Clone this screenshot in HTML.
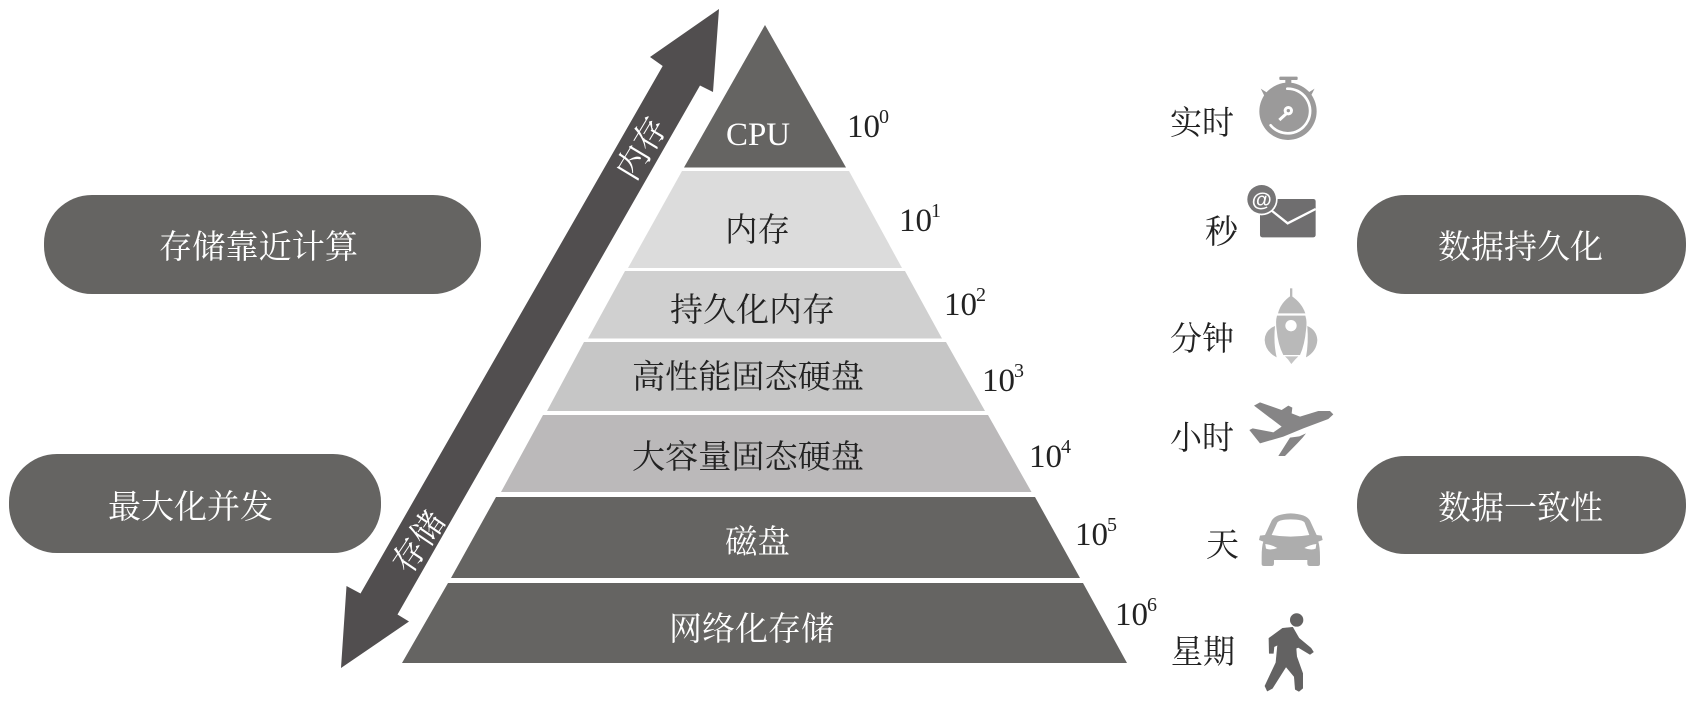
<!DOCTYPE html>
<html>
<head>
<meta charset="utf-8">
<style>
html,body{margin:0;padding:0;background:#fff;width:1698px;height:708px;overflow:hidden}
svg{display:block}
text{font-family:"Liberation Serif","Noto Serif CJK SC",serif;font-size:33px;fill:#222}
.w{fill:#fff}
.sup{font-size:20px}
.at{font-family:"Liberation Sans",sans-serif;font-weight:700;font-size:62px;fill:#fff}
</style>
</head>
<body>
<svg width="1698" height="708" viewBox="0 0 1698 708" xmlns="http://www.w3.org/2000/svg">
<rect width="1698" height="708" fill="#fff"/>

<!-- pills -->
<rect x="44" y="195" width="437" height="99" rx="48" ry="48" fill="#656462"/>
<rect x="9" y="454" width="372" height="99" rx="48" ry="48" fill="#656462"/>
<rect x="1357" y="195" width="329" height="99" rx="48" ry="48" fill="#656462"/>
<rect x="1357" y="456" width="329" height="98" rx="48" ry="48" fill="#656462"/>
<text class="w" x="159" y="258" textLength="199" lengthAdjust="spacingAndGlyphs">存储靠近计算</text>
<text class="w" x="108" y="518" textLength="165" lengthAdjust="spacingAndGlyphs">最大化并发</text>
<text class="w" x="1438" y="258" textLength="165" lengthAdjust="spacingAndGlyphs">数据持久化</text>
<text class="w" x="1438" y="519" textLength="165" lengthAdjust="spacingAndGlyphs">数据一致性</text>

<!-- pyramid -->
<polygon points="765,25 846,167.5 684,167.5" fill="#656462"/>
<polygon points="682,171 849,171 902,268 628,268" fill="#dcdcdc"/>
<polygon points="625,271 905,271 942,338.5 588,338.5" fill="#d0d0d0"/>
<polygon points="584,342 946,342 985,411 547,411" fill="#c6c6c6"/>
<polygon points="543,415 988,415 1031.5,492 501,492" fill="#bbb9ba"/>
<polygon points="496,497 1035,497 1080,578 451,578" fill="#656462"/>
<polygon points="448,583 1083,583 1127,663 402,663" fill="#656462"/>

<text class="w" x="726" y="145" textLength="64" lengthAdjust="spacingAndGlyphs">CPU</text>
<text x="725" y="241" textLength="65" lengthAdjust="spacingAndGlyphs">内存</text>
<text x="670" y="321" textLength="165" lengthAdjust="spacingAndGlyphs">持久化内存</text>
<text x="632" y="388" textLength="232" lengthAdjust="spacingAndGlyphs">高性能固态硬盘</text>
<text x="632" y="468" textLength="232" lengthAdjust="spacingAndGlyphs">大容量固态硬盘</text>
<text class="w" x="725" y="553" textLength="65" lengthAdjust="spacingAndGlyphs">磁盘</text>
<text class="w" x="669" y="640" textLength="165" lengthAdjust="spacingAndGlyphs">网络化存储</text>

<!-- powers -->
<text x="847" y="137">10<tspan class="sup" dx="-1" dy="-14">0</tspan></text>
<text x="899" y="231">10<tspan class="sup" dx="-1" dy="-14">1</tspan></text>
<text x="944" y="315">10<tspan class="sup" dx="-1" dy="-14">2</tspan></text>
<text x="982" y="391">10<tspan class="sup" dx="-1" dy="-14">3</tspan></text>
<text x="1029" y="467">10<tspan class="sup" dx="-1" dy="-14">4</tspan></text>
<text x="1075" y="545">10<tspan class="sup" dx="-1" dy="-14">5</tspan></text>
<text x="1115" y="625">10<tspan class="sup" dx="-1" dy="-14">6</tspan></text>

<!-- double arrow -->
<polygon points="719,9 713,92 700,85.5 397.5,614.5 409,621.5 341,668 346.5,586 360.5,593.5 662.7,66 650,57" fill="#514e4f"/>
<text class="w" transform="translate(641,148) rotate(-59)" x="-33" y="12" textLength="66" lengthAdjust="spacing">内存</text>
<text class="w" transform="translate(418,541.5) rotate(-56)" x="-33" y="12" textLength="66" lengthAdjust="spacing">存储</text>

<!-- time labels -->
<text x="1170" y="134" textLength="64" lengthAdjust="spacingAndGlyphs">实时</text>
<text x="1205" y="243">秒</text>
<text x="1170" y="350" textLength="64" lengthAdjust="spacingAndGlyphs">分钟</text>
<text x="1170" y="449" textLength="64" lengthAdjust="spacingAndGlyphs">小时</text>
<text x="1206" y="556">天</text>
<text x="1171" y="663" textLength="64" lengthAdjust="spacingAndGlyphs">星期</text>

<!-- upper icons -->
<g transform="translate(1150,60) scale(0.3333)">
  <!-- stopwatch -->
  <rect x="388" y="50" width="55" height="10" rx="3" fill="#9b9a9a"/>
  <rect x="406" y="56" width="18" height="24" fill="#9b9a9a"/>
  <path d="M336 90 L352 100 L345 108 Z M490 90 L474 100 L481 108 Z" fill="#9b9a9a" stroke="#9b9a9a" stroke-width="3"/>
  <circle cx="414" cy="154" r="86" fill="#9b9a9a"/>
  <path d="M412 86 A67 67 0 1 1 362 196" fill="none" stroke="#fff" stroke-width="8" stroke-linecap="round"/>
  <circle cx="415" cy="152" r="14" fill="#fff"/>
  <line x1="410" y1="160" x2="388" y2="180" stroke="#fff" stroke-width="9"/>
  <circle cx="415" cy="152" r="5" fill="#9b9a9a"/>

  <!-- envelope -->
  <rect x="330" y="417" width="167" height="115" rx="7" fill="#6f6e6f"/>
  <polyline points="350,440 413,490 497,447" fill="none" stroke="#fff" stroke-width="7"/>
  <circle cx="335" cy="418" r="48" fill="#fff"/>
  <circle cx="335" cy="418" r="43" fill="#767576"/>
  <text class="at" x="335" y="440" text-anchor="middle">@</text>
</g>

<!-- rocket -->
<g transform="translate(1250,280) scale(0.3333)" fill="#b9b9b9">
  <rect x="120" y="25" width="7" height="28"/>
  <path d="M84 100 Q92 68 123 47 Q155 68 166 100 Z"/>
  <path d="M81 107 H166 Q172 125 168 150 Q164 195 150 225 H100 Q84 195 80 150 Q76 125 81 107 Z"/>
  <circle cx="123" cy="137" r="17" fill="#fff"/>
  <path d="M75 138 Q45 150 44 180 Q46 215 80 232 Q70 190 75 138 Z"/>
  <path d="M172 138 Q200 150 202 180 Q200 215 168 232 Q176 190 172 138 Z"/>
  <path d="M105 229 H145 L136 238 L124 252 L114 238 Z" fill="#c4c4c4"/>
</g>

<!-- plane -->
<g transform="translate(1240,395) scale(0.3333)" fill="#868586">
  <path d="M42 32 L60 22 L125 45 L145 32 L157 38 L155 55 L180 65 L235 48 L270 48 L280 58 L265 72 L190 100 L130 125 L60 145 L28 105 L38 100 L100 112 L125 95 Z"/>
  <path d="M198 115 L188 128 L172 145 L135 183 L115 183 L150 128 L178 124 Z"/>
</g>

<!-- lower icons -->
<g transform="translate(1150,390) scale(0.3333)">
  <!-- car -->
  <path d="M345 435 L365 392 Q375 372 422 370 Q470 372 480 392 L500 435 L515 437 L518 450 L505 455 Q510 470 510 500 V522 Q510 528 503 528 H480 Q472 528 472 520 V510 H372 V520 Q372 528 365 528 H342 Q335 528 335 522 V500 Q335 470 340 455 L327 450 L330 437 Z" fill="#adadad"/>
  <path d="M365 435 L382 398 Q388 388 422 388 Q458 388 464 398 L478 435 Q422 445 365 435 Z" fill="#fff"/>
  <path d="M346 462 Q365 464 382 474 Q362 482 348 476 Z" fill="#fff"/>
  <path d="M499 462 Q480 464 463 474 Q483 482 497 476 Z" fill="#fff"/>

  <!-- walker -->
  <circle cx="440" cy="690" r="20" fill="#636262"/>
  <path d="M398 715 L428 712 L447 745 L483 775 L490 786 L480 793 L445 772 L438 775 L440 800 L458 850 L458 895 L447 904 L436 898 L433 860 L408 830 L367 895 L352 903 L345 888 L378 818 L383 765 L372 770 L370 790 L358 790 L357 745 Z" fill="#636262" stroke="#636262" stroke-width="2" stroke-linejoin="round"/>
</g>
</svg>
</body>
</html>
